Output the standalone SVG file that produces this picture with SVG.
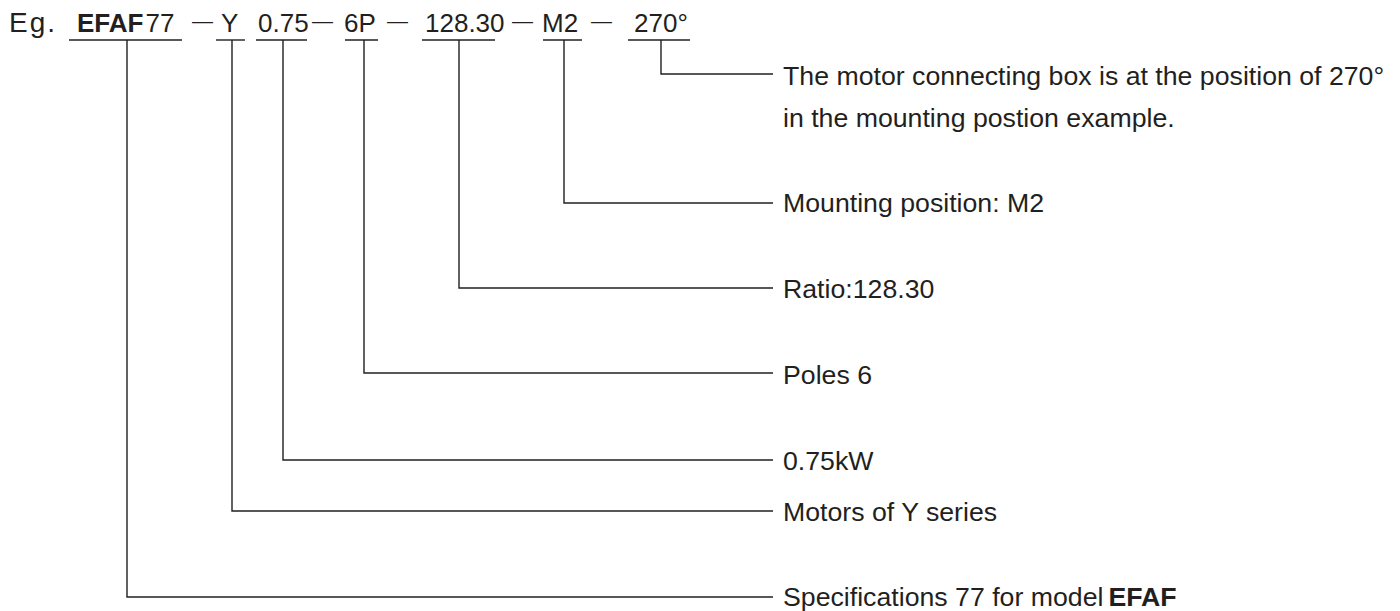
<svg xmlns="http://www.w3.org/2000/svg" width="1400" height="611" viewBox="0 0 1400 611">
<style>
.t{font-family:"Liberation Sans",Arial,Helvetica,sans-serif;fill:#231f20}
.top{font-size:26px}
.b{font-weight:bold}
.dash{font-size:21px}
.lab{font-size:26.7px}
.ul{stroke:#231f20;stroke-width:1.4;fill:none}
.con{stroke:#231f20;stroke-width:1.4;fill:none}
</style>
<rect width="1400" height="611" fill="#ffffff"/>
<g id="prefix"><text class="t" x="9" y="32" font-size="28" letter-spacing="2">Eg.</text></g>
<g id="seg-model"><text class="t top" x="77" y="32"><tspan class="b">EFAF</tspan><tspan dx="2">77</tspan></text><line class="ul" x1="69" y1="40" x2="182" y2="40"/></g>
<g id="seg-series"><text class="t top" x="221" y="32">Y</text><line class="ul" x1="216" y1="40" x2="245" y2="40"/></g>
<g id="seg-power"><text class="t top" x="258" y="32">0.75</text><line class="ul" x1="256" y1="40" x2="307" y2="40"/></g>
<g id="seg-poles"><text class="t top" x="344" y="32">6P</text><line class="ul" x1="345" y1="40" x2="378" y2="40"/></g>
<g id="seg-ratio"><text class="t top" x="425" y="32">128.30</text><line class="ul" x1="422" y1="40" x2="495" y2="40"/></g>
<g id="seg-mount"><text class="t top" x="542" y="32">M2</text><line class="ul" x1="543" y1="40" x2="582" y2="40"/></g>
<g id="seg-box"><text class="t top" x="634" y="32">270°</text><line class="ul" x1="628" y1="40" x2="690" y2="40"/></g>
<g id="separators">
<text class="t dash" x="192" y="27.5">—</text>
<text class="t dash" x="312" y="27.5">—</text>
<text class="t dash" x="387" y="27.5">—</text>
<text class="t dash" x="512" y="27.5">—</text>
<text class="t dash" x="591" y="27.5">—</text>
</g>
<g id="connectors">
<polyline class="con" points="661,40 661,74 773,74"/>
<polyline class="con" points="564,40 564,203 773,203"/>
<polyline class="con" points="459,40 459,288 773,288"/>
<polyline class="con" points="364,40 364,373 773,373"/>
<polyline class="con" points="283,40 283,460 773,460"/>
<polyline class="con" points="232,40 232,511 773,511"/>
<polyline class="con" points="127,40 127,597 773,597"/>
</g>
<g id="label-box"><text class="t lab" x="783" y="85">The motor connecting box is at the position of 270°</text><text class="t lab" x="783" y="127">in the mounting postion example.</text></g>
<g id="label-mount"><text class="t lab" x="783" y="212">Mounting position: M2</text></g>
<g id="label-ratio"><text class="t lab" x="783" y="298">Ratio:128.30</text></g>
<g id="label-poles"><text class="t lab" x="783" y="384">Poles 6</text></g>
<g id="label-power"><text class="t lab" x="783" y="470">0.75kW</text></g>
<g id="label-series"><text class="t lab" x="783" y="521">Motors of Y series</text></g>
<g id="label-model"><text class="t lab" x="783" y="606">Specifications 77 for model<tspan class="b" dx="5">EFAF</tspan></text></g>
</svg>
